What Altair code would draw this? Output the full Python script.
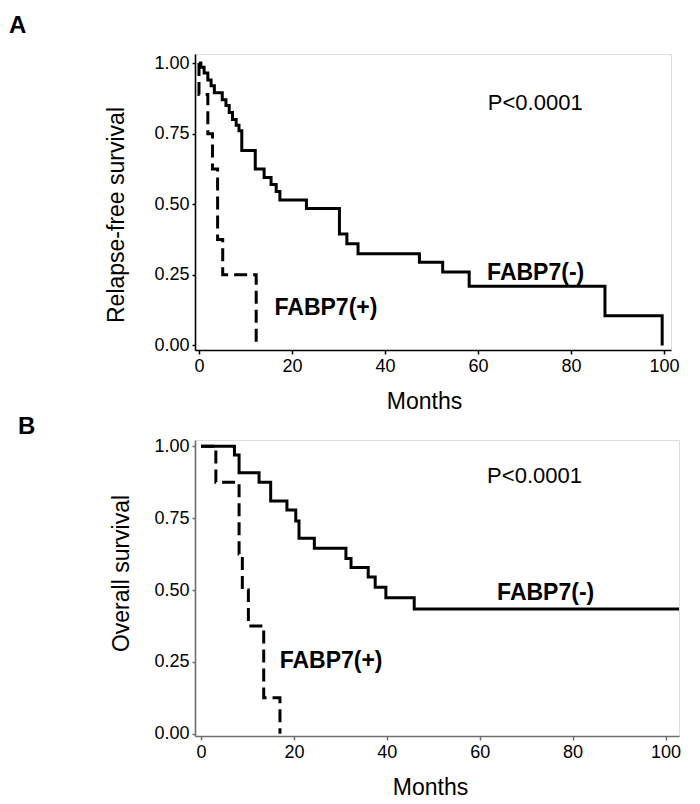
import altair as alt
import pandas as pd

# ---- Panel A: relapse-free survival ----
a_neg_months = [0, 0.4, 1.1, 1.9, 2.6, 3.3, 5.0, 5.8, 6.5, 7.2, 8.0, 8.6, 9.2, 12.1, 14.0,
                15.5, 16.6, 17.4, 23.1, 30.2, 31.8, 34.2, 47.4, 52.4, 58.1, 87.3, 99.6]
a_neg_surv = [1.0, 0.985, 0.965, 0.94, 0.92, 0.895, 0.87, 0.85, 0.825, 0.80, 0.78, 0.76, 0.69,
              0.625, 0.595, 0.57, 0.545, 0.515, 0.485, 0.395, 0.36, 0.325, 0.295, 0.26, 0.21,
              0.105, 0.0]
a_pos_months = [0, 0, 1.9, 2.9, 4.0, 5.1, 12.3]
a_pos_surv = [1.0, 0.889, 0.75, 0.625, 0.375, 0.25, 0.0]

# ---- Panel B: overall survival ----
b_neg_months = [0, 7.2, 8.2, 12.5, 15.0, 18.5, 20.4, 21.1, 24.4, 31.2, 32.3, 36.0, 37.5,
                39.8, 45.9, 102.9]
b_neg_surv = [1.0, 0.97, 0.908, 0.875, 0.81, 0.778, 0.74, 0.68, 0.645, 0.61, 0.578, 0.545,
              0.51, 0.473, 0.434, 0.434]
b_pos_months = [0, 3.2, 8.2, 8.9, 10.2, 13.5, 17.0]
b_pos_surv = [1.0, 0.875, 0.625, 0.5, 0.375, 0.125, 0.0]

x_ticks = [0, 20, 40, 60, 80, 100]
y_ticks = [0, 0.25, 0.5, 0.75, 1.0]

# annotation texts (month, survival)
a_p_text = ["P<0.0001"]; a_p_pos = [72.3, 0.859]
a_neg_label = ["FABP7(-)"]; a_neg_pos = [72.4, 0.258]
a_pos_label = ["FABP7(+)"]; a_pos_pos = [27.3, 0.134]
b_p_text = ["P<0.0001"]; b_p_pos = [71.8, 0.896]
b_neg_label = ["FABP7(-)"]; b_neg_pos = [74.2, 0.49]
b_pos_label = ["FABP7(+)"]; b_pos_pos = [28.0, 0.252]

FONT = "Liberation Sans"


def curve_df(months, surv):
    return pd.DataFrame({"month": months, "surv": surv, "i": list(range(len(months)))})


def panel(neg_m, neg_s, pos_m, pos_s, xdom, ydom, width, axis_color, ytitle,
          ytitle_x, ytitle_y, xtitle_x, letter, letter_x, letter_y, notes):
    xenc = alt.X("month:Q", scale=alt.Scale(domain=xdom, nice=False, zero=False),
                 axis=alt.Axis(values=x_ticks, title="Months", titleX=xtitle_x, titleY=40,
                               titleBaseline="top", titleAlign="center", grid=False,
                               tickSize=4, labelPadding=3, labelFlush=False,
                               labelOverlap=False, labelFontSize=18, labelFont=FONT,
                               labelColor="black", titleFont=FONT, titleFontSize=23,
                               titleFontWeight="normal", titleColor="black",
                               domainColor=axis_color, domainWidth=1.6,
                               tickColor=axis_color, tickWidth=1.5))
    yenc = alt.Y("surv:Q", scale=alt.Scale(domain=ydom, nice=False, zero=False),
                 axis=alt.Axis(values=y_ticks, format=".2f", title=ytitle, titleX=ytitle_x,
                               titleY=ytitle_y, titleAngle=270, titleAlign="center",
                               titleBaseline="middle", grid=False, tickSize=3,
                               labelPadding=3, labelFlush=False, labelOverlap=False,
                               labelFontSize=18, labelFont=FONT, labelColor="black",
                               titleFont=FONT, titleFontSize=23, titleFontWeight="normal",
                               titleColor="black", domainColor=axis_color,
                               domainWidth=1.6, tickColor=axis_color, tickWidth=1.5))

    solid = alt.Chart(curve_df(neg_m, neg_s)).mark_line(
        interpolate="step-after", color="black", strokeWidth=3, strokeCap="butt"
    ).encode(x=xenc, y=yenc, order="i:O")
    dashed = alt.Chart(curve_df(pos_m, pos_s)).mark_line(
        interpolate="step-after", color="black", strokeWidth=3, strokeCap="butt",
        strokeDash=[13, 6]
    ).encode(x="month:Q", y="surv:Q", order="i:O")

    layers = [solid, dashed]
    for txt, pos, weight in notes:
        d = pd.DataFrame({"month": [pos[0]], "surv": [pos[1]], "t": txt})
        layers.append(alt.Chart(d).mark_text(
            font=FONT, fontSize=23 if weight == "bold" else 22, fontWeight=weight,
            color="black", align="center", baseline="middle"
        ).encode(x="month:Q", y="surv:Q", text="t:N"))

    ld = pd.DataFrame({"t": [letter]})
    layers.append(alt.Chart(ld).mark_text(
        font=FONT, fontSize=24, fontWeight="bold", color="black", align="left",
        baseline="alphabetic"
    ).encode(x=alt.value(letter_x), y=alt.value(letter_y), text="t:N"))

    return alt.layer(*layers).properties(width=width, height=296)


chart_a = panel(a_neg_months, a_neg_surv, a_pos_months, a_pos_surv,
                [-0.86, 101.5], [-0.016, 1.032], 476, "black", "Relapse-free survival",
                -79, 160.5, 229, "A", -186, -21,
                [(a_p_text, a_p_pos, "normal"), (a_neg_label, a_neg_pos, "bold"),
                 (a_pos_label, a_pos_pos, "bold")])

chart_b = panel(b_neg_months, b_neg_surv, b_pos_months, b_pos_surv,
                [-1.29, 102.9], [-0.008, 1.022], 484, "#6e6e6e", "Overall survival",
                -74, 133, 235, "B", -177, -6,
                [(b_p_text, b_p_pos, "normal"), (b_neg_label, b_neg_pos, "bold"),
                 (b_pos_label, b_pos_pos, "bold")])

chart = alt.vconcat(chart_a, chart_b, spacing=0).properties(
    padding={"left": 0, "top": 5, "right": 5, "bottom": 5}
).configure_view(stroke=None).configure(background="white")

chart.save("out.html", embed_options={"renderer": "svg", "actions": False})
